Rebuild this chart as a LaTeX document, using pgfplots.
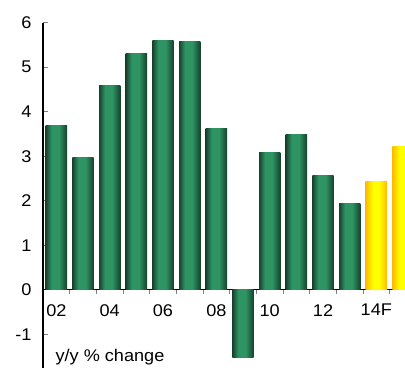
\documentclass[border=0pt]{standalone}
\usepackage{pgfplots}
\pgfplotsset{compat=1.18}
\usepackage{fontspec}
\setmainfont[FakeStretch=1.07]{Liberation Sans}
\definecolor{gdark}{RGB}{22,66,44}
\definecolor{glight}{RGB}{47,148,100}
\definecolor{yedge}{RGB}{255,186,0}
\definecolor{ymid}{RGB}{255,255,0}
% cylinder-like shading across each bar (the bar spans 25bp..75bp)
\pgfdeclarehorizontalshading{greencyl}{100bp}{
  color(0bp)=(gdark); color(25bp)=(gdark); color(39bp)=(glight);
  color(56bp)=(glight); color(75bp)=(gdark); color(100bp)=(gdark)}
\pgfdeclarehorizontalshading{yellowcyl}{100bp}{
  color(0bp)=(yedge); color(25bp)=(yedge); color(42bp)=(ymid);
  color(56bp)=(ymid); color(75bp)=(yedge); color(100bp)=(yedge)}
\pgfplotsset{
  gbar/.style={ybar, bar width=0.8, bar shift=0, draw=none,
    shade, shading=greencyl},
  fbar/.style={ybar, bar width=0.8, bar shift=0, draw=none,
    shade, shading=yellowcyl},
}
\begin{document}
\begin{tikzpicture}
\useasboundingbox (0,0) rectangle (405bp,368bp);
\begin{axis}[
  at={(43bp,0bp)}, anchor=south west,
  scale only axis, width=362.4bp, height=345.3bp,
  xmin=-0.5, xmax=13.09, ymin=-1.76, ymax=6,
  axis y line*=left, axis x line*=middle,
  axis line style={black, line width=1.2pt},
  ytick={-1,0,...,6},
  xtick={0.5,1.5,...,12.5},
  xticklabels={},
  x tick style={gray, line width=0.8pt, yshift=-4bp},
  extra x ticks={0,2,...,12},
  extra x tick labels={02,04,06,08,10,12,14F},
  extra x tick style={major tick length=0pt, tick style={draw=none}},
  y tick style={gray, line width=0.8pt},
  major tick length=5bp,
  tick align=inside,
  /pgf/number format/assume math mode=true,
  tick label style={font=\fontsize{17}{20}\selectfont},
  xticklabel style={yshift=-11bp},
  yticklabel style={xshift=-8bp},
  clip=true,
]
% actual growth, one bar per year 2002-2013
\addplot[gbar] coordinates {(0,3.68)};
\addplot[gbar] coordinates {(1,2.96)};
\addplot[gbar] coordinates {(2,4.58)};
\addplot[gbar] coordinates {(3,5.30)};
\addplot[gbar] coordinates {(4,5.61)};
\addplot[gbar] coordinates {(5,5.57)};
\addplot[gbar] coordinates {(6,3.63)};
\addplot[gbar] coordinates {(7,-1.53)};
\addplot[gbar] coordinates {(8,3.09)};
\addplot[gbar] coordinates {(9,3.48)};
\addplot[gbar] coordinates {(10,2.56)};
\addplot[gbar] coordinates {(11,1.93)};
% forecasts 2014-2015
\addplot[fbar] coordinates {(12,2.42)};
\addplot[fbar] coordinates {(13,3.22)};
\node[anchor=base west, font=\fontsize{17}{20}\selectfont]
  at (axis cs:-0.16,-1.62) {y/y \% change};
\end{axis}
\end{tikzpicture}
\end{document}
